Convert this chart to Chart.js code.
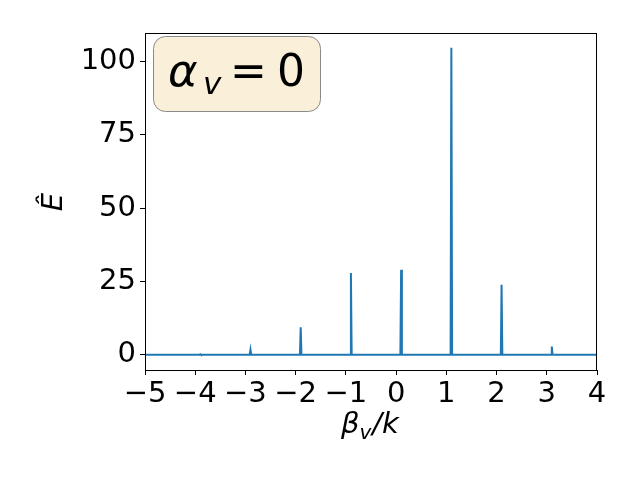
<!DOCTYPE html>
<html>
<head>
<meta charset="utf-8">
<script src="https://cdn.jsdelivr.net/npm/chart.js@4/dist/chart.umd.min.js"></script>
<style>
  html, body { margin: 0; padding: 0; background: #fff; }
  #wrap { width: 640px; height: 480px; }
</style>
</head>
<body>
<div id="wrap"><canvas id="spectrum" width="640" height="480"></canvas></div>
<script>
// beta_v / k positions and spectrum values
const betaK = [-5, -3.915, -3.9, -3.885, -2.915, -2.9, -2.885, -1.915, -1.9, -1.885,
               -0.915, -0.9, -0.885, 0.085, 0.1, 0.115, 1.085, 1.1, 1.115,
               2.085, 2.1, 2.115, 3.085, 3.1, 3.115, 4];
const eHat = [0, 0, 0.2, 0, 0, 1.7, 0, 0, 9.4, 0,
              0, 27.9, 0, 0, 29.0, 0, 0, 104.7, 0,
              0, 23.9, 0, 0, 2.8, 0, 0];
const xTicks = [-5, -4, -3, -2, -1, 0, 1, 2, 3, 4];
const yTicks = [0, 25, 50, 75, 100];

const FONT = "'DejaVu Sans', sans-serif";

// frame, annotation box and math labels
const decorPlugin = {
    id: 'decor',
    afterDraw(chart) {
        const c = chart.ctx;
        const a = chart.chartArea;
        c.save();
        c.strokeStyle = '#000';
        c.lineWidth = 1;
        c.strokeRect(a.left + 0.5, a.top + 0.5, a.right - a.left - 1, a.bottom - a.top);

        // alpha_v = 0 box
        c.beginPath();
        c.roundRect(153.5, 36.5, 167, 75, 12);
        c.fillStyle = '#faefd9';
        c.fill();
        c.strokeStyle = '#8a8a8a';
        c.stroke();

        c.fillStyle = '#000';
        c.textBaseline = 'alphabetic';
        c.textAlign = 'left';
        c.font = 'italic 45px ' + FONT;
        c.fillText('α', 168, 86);
        c.font = 'italic 31px ' + FONT;
        c.fillText('v', 203, 94);
        c.font = '44px ' + FONT;
        c.fillText('=', 230, 86);
        c.fillText('0', 277, 86);

        // x axis label beta_v/k
        let bx = 341;
        c.font = 'italic 29px ' + FONT;
        c.fillText('β', bx, 433);
        bx += c.measureText('β').width;
        c.font = 'italic 20px ' + FONT;
        c.fillText('v', bx, 439);
        bx += c.measureText('v').width + 1;
        c.font = 'italic 29px ' + FONT;
        c.fillText('/k', bx, 433);

        // y axis label E hat
        c.translate(62, 202);
        c.rotate(-Math.PI / 2);
        c.textAlign = 'center';
        c.font = 'italic 29px ' + FONT;
        c.fillText('Ê', 0, 0);
        c.restore();
    }
};

const ctx = document.getElementById('spectrum').getContext('2d');
const points = betaK.map((b, i) => ({ x: b, y: eHat[i] }));

new Chart(ctx, {
    type: 'line',
    data: {
        datasets: [{
            data: points,
            borderColor: '#1f77b4',
            borderWidth: 2,
            pointRadius: 0,
            tension: 0,
            fill: false
        }]
    },
    options: {
        responsive: false,
        animation: false,
        devicePixelRatio: 1,
        layout: { padding: { left: 0, top: 33, right: 43, bottom: 0 } },
        plugins: { legend: { display: false }, tooltip: { enabled: false } },
        scales: {
            x: {
                type: 'linear',
                min: -5,
                max: 4,
                afterFit(scale) { scale.height = 110; },
                afterBuildTicks(scale) { scale.ticks = xTicks.map(v => ({ value: v })); },
                grid: { drawOnChartArea: false, drawTicks: true, tickLength: 5, color: '#000' },
                border: { color: '#000', width: 1 },
                ticks: {
                    color: '#000',
                    padding: 2,
                    maxRotation: 0,
                    font: { family: FONT, size: 29 },
                    callback: v => String(v).replace('-', '\u2212')
                }
            },
            y: {
                type: 'linear',
                min: -5.2,
                max: 109.7,
                afterFit(scale) { scale.width = 145; },
                afterBuildTicks(scale) { scale.ticks = yTicks.map(v => ({ value: v })); },
                grid: { drawOnChartArea: false, drawTicks: true, tickLength: 5, color: '#000' },
                border: { color: '#000', width: 1 },
                ticks: {
                    color: '#000',
                    padding: 4,
                    font: { family: FONT, size: 29 }
                }
            }
        }
    },
    plugins: [decorPlugin]
});
</script>
</body>
</html>
